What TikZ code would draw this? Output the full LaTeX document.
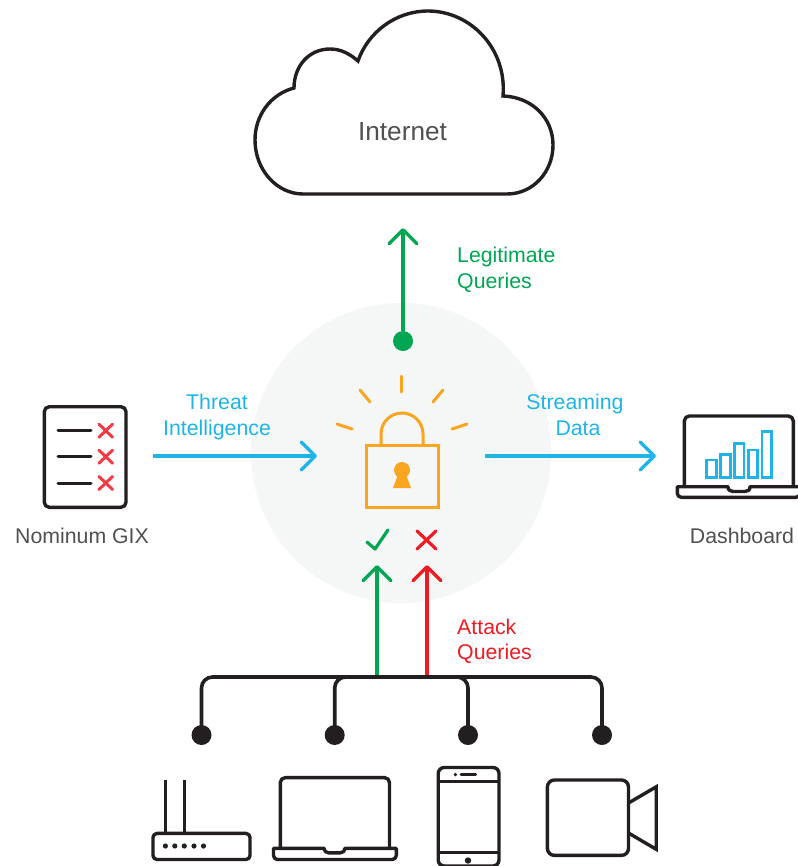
\documentclass[tikz,border=0pt]{standalone}
\usepackage{fontspec}
\setmainfont{Liberation Sans}
\usetikzlibrary{arrows.meta}
\definecolor{ink}{HTML}{231F20}
\definecolor{txt}{HTML}{505050}
\definecolor{gr}{HTML}{00A651}
\definecolor{rd}{HTML}{ED1C24}
\definecolor{xrd}{HTML}{EF3B45}
\definecolor{bl}{HTML}{1FB4E8}
\definecolor{og}{HTML}{F9A51F}
\definecolor{halo}{HTML}{F5F7F7}
\tikzset{
  x=1bp,y=-1bp,
  lab/.style={font=\fontsize{21.3bp}{25bp}\selectfont,inner sep=0pt,anchor=base},
  labl/.style={lab,anchor=base west},
  icon/.style={draw=ink,line width=3.4bp,line join=round},
  thin icon/.style={draw=ink,line width=3bp,line cap=round},
  flow/.style={line width=3.4bp,-{Straight Barb[length=14bp,width=28bp,round]}},
  gdot/.style={circle,fill=gr,inner sep=0pt,minimum size=20bp},
  kdot/.style={circle,fill=ink,inner sep=0pt,minimum size=20bp},
  ray/.style={draw=og,line width=3bp,line cap=round},
  cross/.style={draw=xrd,line width=3bp,line cap=round},
  bar/.style={draw=bl,line width=2.8bp},
  bus/.style={draw=ink,line width=3.6bp,rounded corners=11bp},
}
\begin{document}
\begin{tikzpicture}
\useasboundingbox (0,0) rectangle (798,866);
\fill[white] (0,0) rectangle (798,866);
% halo
\fill[halo] (401,453) circle (150);
% cloud
\draw[icon,line join=miter]
  (303,194) -- (507,194)
  .. controls (533,194) and (553,172) .. (553,145)
  .. controls (553,118) and (532,97) .. (503,96)
  .. controls (507,48) and (470,11) .. (428,11)
  .. controls (396,11) and (368,32) .. (358,61)
  .. controls (350,54) and (341,49) .. (330,49)
  .. controls (309,49) and (294,66) .. (294,88)
  .. controls (271,94) and (255,115) .. (255,140)
  .. controls (255,170) and (277,194) .. (303,194) -- cycle;
\node[lab,text=txt,font=\fontsize{26.2bp}{30bp}\selectfont] (internet) at (402.5,140) {Internet};
% legit
\node[gdot] (legit) at (403,341) {};
\coordinate (legittip) at (403,228);
\draw[flow,draw=gr] (legit) -- (legittip);
\node[labl,text=gr] (legit1) at (457,262) {Legitimate};
\node[labl,text=gr] (legit2) at (457,288) {Queries};
% threat and streaming
\coordinate (threatfrom) at (153,456);
\coordinate (threatto) at (317,456);
\draw[flow,draw=bl] (threatfrom) -- (threatto);
\coordinate (streamfrom) at (485,456);
\coordinate (streamto) at (656,456);
\draw[flow,draw=bl] (streamfrom) -- (streamto);
\node[lab,text=bl] (threat1) at (217,409) {Threat};
\node[lab,text=bl] (threat2) at (217,435) {Intelligence};
\node[lab,text=bl] (stream1) at (575,409) {Streaming};
\node[lab,text=bl] (stream2) at (578,435) {Data};
% lock
\draw[draw=og,line width=3bp] (366,445) rectangle (438,507);
\draw[draw=og,line width=3bp] (381,445) -- (381,434)
  .. controls (381,422.4) and (390.4,413) .. (402,413)
  .. controls (413.6,413) and (423,422.4) .. (423,434) -- (423,445);
\fill[og] (402,470) circle (8);
\fill[og] (399,472) -- (405,472) -- (411,488) -- (393,488) -- cycle;
\draw[ray] (401,376) -- (401,392);
\draw[ray] (360,390) -- (370,402);
\draw[ray] (443,390) -- (433,402);
\draw[ray] (337,424) -- (352,429);
\draw[ray] (467,424) -- (452,429);
% check and cross
\draw[draw=gr,line width=3.2bp,line cap=round,line join=round] (367,542) -- (375,549) -- (388,530);
\draw[draw=rd,line width=3.2bp,line cap=round] (417,531) -- (436,549) (436,531) -- (417,549);
% up arrows
\coordinate (gbus) at (377,677);
\coordinate (gtip) at (377,565);
\coordinate (rbus) at (427,677);
\coordinate (rtip) at (427,565);
\draw[flow,draw=gr] (gbus) -- (gtip);
\draw[flow,draw=rd] (rbus) -- (rtip);
\node[labl,text=rd] (att1) at (457,634) {Attack};
\node[labl,text=rd] (att2) at (457,659) {Queries};
% bus
\node[kdot] (d1) at (201.5,735) {};
\node[kdot] (d2) at (334.7,735) {};
\node[kdot] (d3) at (468,735) {};
\node[kdot] (d4) at (602,735) {};
\coordinate (busmid) at (400,677);
\draw[bus] (d1.center) |- (busmid) -| (d4.center);
\draw[bus] (d2.center) |- (busmid) -| (d3.center);
% GIX icon
\draw[icon,rounded corners=5bp] (44.3,406.7) rectangle (126,507.3);
\foreach \yy in {430.7,456.7,483}{
  \draw[thin icon] (58,\yy) -- (91,\yy);
  \draw[cross] (99,\yy-6.5) -- (112.5,\yy+6.5) (112.5,\yy-6.5) -- (99,\yy+6.5);
}
\node[lab,text=txt] (gix) at (82,543) {Nominum GIX};
% dashboard icon
\draw[icon,rounded corners=5bp] (684.3,486.7) |- (793.3,416) -- (793.3,486.7);
\draw[icon] (677.3,486.7) -- (728,486.7)
  .. controls (728,490) and (730,491.5) .. (733,491.5) -- (745,491.5)
  .. controls (748,491.5) and (750,490) .. (750,486.7)
  -- (800,486.7) [rounded corners=4bp] -- (800,497.3) -- (677.3,497.3) [sharp corners] -- cycle;
\draw[bar] (706.7,460) rectangle (716.7,477.7);
\draw[bar] (720.7,454.3) rectangle (730.7,477.7);
\draw[bar] (734.3,443.3) rectangle (744,477.7);
\draw[bar] (748.3,450) rectangle (757.7,477.7);
\draw[bar] (762,431.3) rectangle (771.7,477.7);
\node[lab,text=txt] (dash) at (742,543) {Dashboard};
% router
\draw[icon,rounded corners=4bp] (153,833.4) rectangle (250,859.5);
\draw[icon,line width=3bp] (165.4,780) -- (165.4,833) (184.3,780) -- (184.3,833);
\foreach \xx in {165.4,174.8,184.3,194,203.5}{\fill[ink] (\xx,846) circle (2.6);}
% laptop
\draw[icon,rounded corners=5bp] (280.3,848.3) |- (389.5,777.6) -- (389.5,848.3);
\draw[icon] (273.5,848.3) -- (324,848.3)
  .. controls (324,851) and (326,852.9) .. (329,852.9) -- (340,852.9)
  .. controls (343,852.9) and (345,851) .. (345,848.3)
  -- (396.3,848.3) [rounded corners=4bp] -- (396.3,859.5) -- (273.5,859.5) [sharp corners] -- cycle;
% phone
\draw[icon,rounded corners=6bp] (438.2,767.5) rectangle (499,866);
\draw[icon,line width=3bp] (438.2,781) -- (499,781) (438.2,852) -- (499,852);
\fill[ink] (455.4,774.6) circle (1.8);
\draw[thin icon] (461,774.6) -- (475.7,774.6);
\fill[ink] (468,860.5) circle (3.2);
% camera
\draw[icon,rounded corners=7bp] (547.4,780) rectangle (628.5,855.4);
\draw[icon,line join=miter] (628.5,803) -- (656.2,786.8) -- (656.2,849.3) -- (628.5,833);
\end{tikzpicture}
\end{document}
